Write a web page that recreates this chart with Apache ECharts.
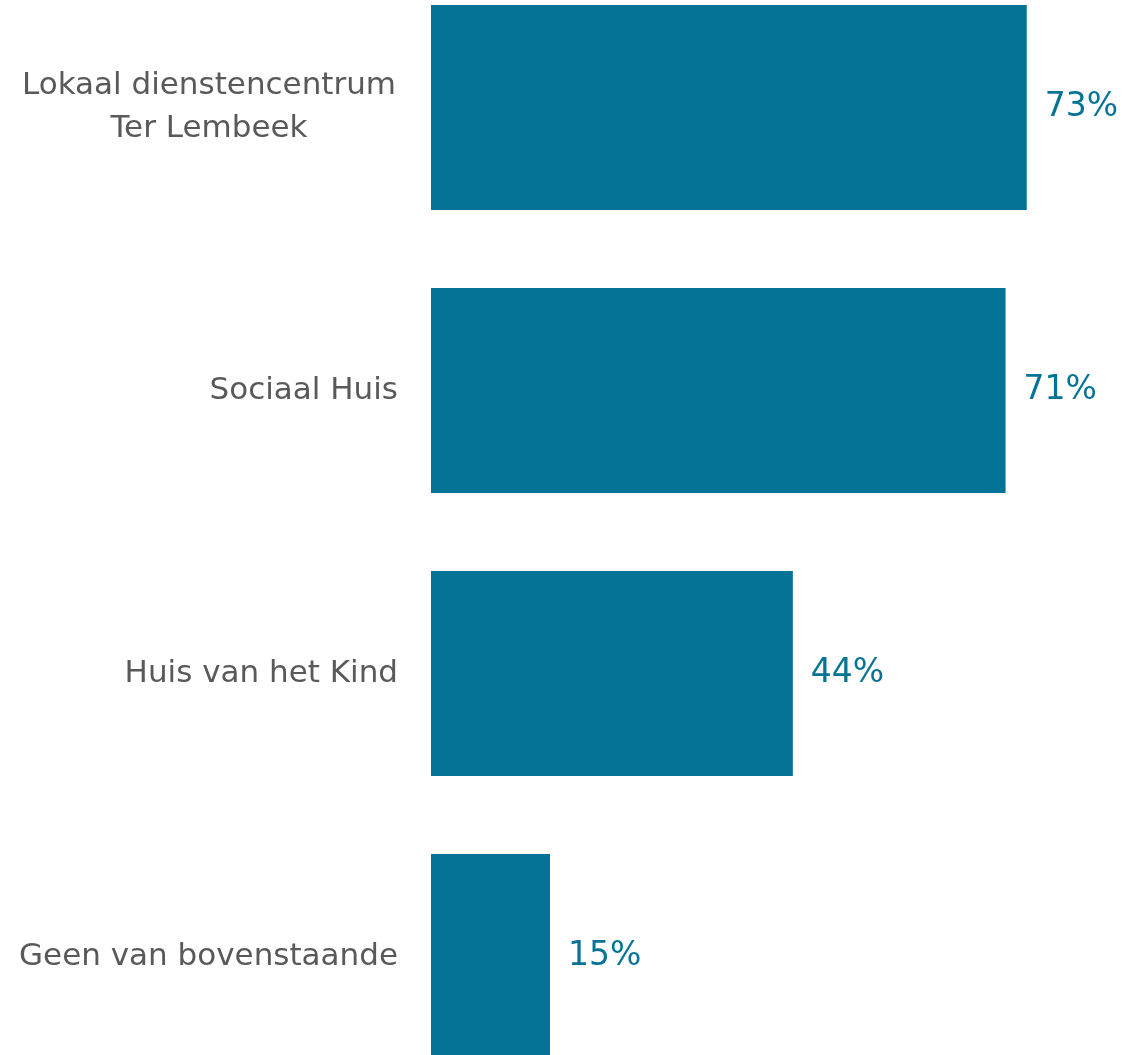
<!DOCTYPE html>
<html><head><meta charset="utf-8">
<style>html,body{margin:0;padding:0;background:#fff}#c{width:1132px;height:1055px}</style>
<script src="https://cdn.jsdelivr.net/npm/echarts@6/dist/echarts.min.js"></script>
</head><body><div id="c"></div>
<script>
const categories = ["Lokaal dienstencentrum\nTer Lembeek", "Sociaal Huis", "Huis van het Kind", "Geen van bovenstaande"];
const values = [73.1, 70.5, 44.4, 14.6];
const chart = echarts.init(document.getElementById('c'));
const txt = { color: '#595959', fontFamily: 'DejaVu Sans', fontSize: 31, lineHeight: 43 };
chart.setOption({
  animation: false,
  grid: { left: 431, top: -34, width: 815, height: 1132, containLabel: false, outerBoundsMode: 'none' },
  xAxis: { type: 'value', min: 0, max: 100, show: false },
  yAxis: {
    type: 'category', inverse: true, data: categories,
    axisLine: { show: false }, axisTick: { show: false },
    axisLabel: Object.assign({ margin: 33, align: 'right',
      formatter: v => v.indexOf('\n') >= 0 ? v.split('\n').map(s => '{c|' + s + '}').join('\n') : v,
      rich: { c: Object.assign({ width: 378, align: 'center' }, txt) } }, txt)
  },
  series: [{
    type: 'bar', data: values, barCategoryGap: '27.5%',
    itemStyle: { color: '#057396' },
    label: { show: true, position: 'right', distance: 18, color: '#057396', fontFamily: 'DejaVu Sans', fontSize: 33,
      formatter: p => Math.round(p.value) + '%' }
  }]
});
</script></body></html>
